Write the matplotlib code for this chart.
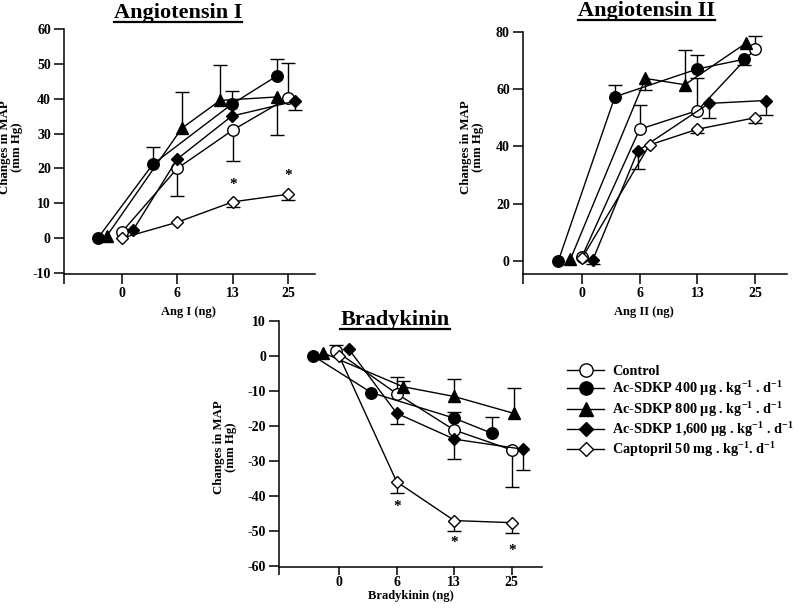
import numpy as np
import matplotlib
matplotlib.use("Agg")
import matplotlib.pyplot as plt
from matplotlib.lines import Line2D

plt.rcParams['font.family'] = 'serif'
plt.rcParams['font.serif'] = ['Liberation Serif', 'DejaVu Serif']
plt.rcParams['font.weight'] = 'bold'
plt.rcParams['axes.unicode_minus'] = False
plt.rcParams['mathtext.fontset'] = 'custom'
plt.rcParams['mathtext.rm'] = 'Liberation Serif:bold'
plt.rcParams['mathtext.it'] = 'Liberation Serif:bold'
plt.rcParams['mathtext.bf'] = 'Liberation Serif:bold'

# ---------------- data ----------------
dose_labels = ['0', '6', '13', '25']
series_names = ['Control',
                r'Ac-SDKP 400 µg . kg$^{-1}$ . d$^{-1}$',
                r'Ac-SDKP 800 µg . kg$^{-1}$ . d$^{-1}$',
                r'Ac-SDKP 1,600 µg . kg$^{-1}$ . d$^{-1}$',
                r'Captopril 50 mg . kg$^{-1}$. d$^{-1}$']

# Angiotensin I  (x = dose category index incl. plotting offset)
a1_x_ctrl = [0.0, 1.0, 2.0, 3.0]
a1_y_ctrl = [1.7, 20.0, 31.0, 40.3]
a1_lo_ctrl = [0, 8.0, 9.0, 0]
a1_hi_ctrl = [0, 0, 0, 10.0]
a1_x_400 = [-0.43, 0.56, 1.98, 2.79]
a1_y_400 = [0.0, 21.2, 38.4, 46.5]
a1_lo_400 = [0, 0, 0, 0]
a1_hi_400 = [0, 4.8, 3.8, 5.0]
a1_x_800 = [-0.27, 1.08, 1.77, 2.79]
a1_y_800 = [0.6, 31.5, 39.5, 40.5]
a1_lo_800 = [0, 0, 0, 11.0]
a1_hi_800 = [0, 10.3, 10.2, 0]
a1_x_1600 = [0.2, 1.0, 1.98, 3.12]
a1_y_1600 = [2.2, 22.7, 35.0, 39.3]
a1_lo_1600 = [0, 0, 0, 2.5]
a1_hi_1600 = [0, 0, 0, 0]
a1_x_cap = [0.0, 0.99, 2.0, 3.0]
a1_y_cap = [0.0, 4.5, 10.4, 12.6]
a1_lo_cap = [0, 0, 1.4, 1.6]
a1_hi_cap = [0, 0, 0, 0]
a1_star_x = [2, 3]
a1_star_y = [15.5, 18.0]

# Angiotensin II
a2_x_ctrl = [0.0, 1.0, 2.0, 3.0]
a2_y_ctrl = [1.5, 46.0, 52.5, 74.0]
a2_lo_ctrl = [0, 0, 0, 0]
a2_hi_ctrl = [0, 8.5, 11.5, 4.6]
a2_x_400 = [-0.41, 0.57, 2.0, 2.81]
a2_y_400 = [0.0, 57.3, 67.0, 70.4]
a2_lo_400 = [0, 0, 0, 2.0]
a2_hi_400 = [0, 4.0, 5.0, 0]
a2_x_800 = [-0.2, 1.1, 1.78, 2.84]
a2_y_800 = [0.6, 63.7, 61.5, 76.0]
a2_lo_800 = [0, 4.0, 0, 0]
a2_hi_800 = [0, 0, 12.0, 0]
a2_x_1600 = [0.19, 0.97, 2.2, 3.18]
a2_y_1600 = [0.5, 38.5, 55.0, 56.0]
a2_lo_1600 = [1.5, 6.3, 5.0, 5.0]
a2_hi_1600 = [0, 0, 0, 0]
a2_x_cap = [0.0, 1.17, 2.0, 3.0]
a2_y_cap = [1.0, 40.5, 46.0, 50.0]
a2_lo_cap = [0, 0, 1.5, 2.0]
a2_hi_cap = [0, 0, 0, 0]

# Bradykinin
bk_x_ctrl = [-0.06, 1.0, 2.0, 3.0]
bk_y_ctrl = [1.5, -10.8, -21.2, -26.9]
bk_lo_ctrl = [0, 0, 0, 10.7]
bk_hi_ctrl = [1.6, 4.8, 0, 0]
bk_x_400 = [-0.45, 0.56, 2.0, 2.65]
bk_y_400 = [0.0, -10.5, -17.8, -22.1]
bk_lo_400 = [0, 0, 0, 0]
bk_hi_400 = [0, 0, 1.9, 4.6]
bk_x_800 = [-0.28, 1.11, 2.0, 3.03]
bk_y_800 = [0.9, -8.8, -11.6, -16.4]
bk_lo_800 = [0, 0, 0, 0]
bk_hi_800 = [0, 1.5, 5.0, 7.2]
bk_x_1600 = [0.17, 1.0, 2.0, 3.2]
bk_y_1600 = [1.9, -16.4, -23.8, -26.7]
bk_lo_1600 = [0, 3.1, 5.8, 5.9]
bk_hi_1600 = [0, 0, 0, 0]
bk_x_cap = [0.0, 1.0, 2.0, 3.0]
bk_y_cap = [0.0, -36.0, -47.1, -47.7]
bk_lo_cap = [0, 3.1, 2.9, 2.9]
bk_hi_cap = [0, 0, 0, 0]
bk_star_x = [1, 2, 3]
bk_star_y = [-43.2, -53.4, -55.6]

# ---------------- styles ----------------
styles = [
    dict(marker='o', mfc='white', ms=8.3),
    dict(marker='o', mfc='black', ms=8.3),
    dict(marker='^', mfc='black', ms=8.5),
    dict(marker='D', mfc='black', ms=6.0),
    dict(marker='D', mfc='white', ms=6.4),
]

W, H = 800, 611
fig = plt.figure(figsize=(W / 100, H / 100), dpi=100)


def px_axes(left, top, right, bottom):
    return fig.add_axes([left / W, 1 - bottom / H, (right - left) / W, (bottom - top) / H])


def draw_err(ax, x, y, lo, hi):
    x = np.asarray(x, float); y = np.asarray(y, float)
    lo = np.asarray(lo, float); hi = np.asarray(hi, float)
    for err, sgn in ((hi, 1), (lo, -1)):
        m = err > 0
        if m.any():
            ends = y[m] + sgn * err[m]
            ax.vlines(x[m], y[m], ends, colors='black', lw=1.0, zorder=2)
            ax.plot(x[m], ends, ls='none', marker='_', ms=9.5, mew=1.0,
                    color='black', zorder=2)


def setup(ax, xlim, ylim, yticks, xlen=7, xpad=2.5):
    ax.set_xlim(*xlim)
    ax.set_ylim(*ylim)
    ax.set_xticks([xlim[0], 0, 1, 2, 3])
    ax.set_xticklabels([''] + dose_labels)
    ax.set_yticks(yticks)
    ax.set_yticklabels([str(t) for t in yticks])
    for s in ('top', 'right'):
        ax.spines[s].set_visible(False)
    for s in ('left', 'bottom'):
        ax.spines[s].set_linewidth(1.1)
    ax.spines['left'].set_bounds(ylim[0], max(yticks))
    ax.tick_params(axis='y', direction='out', length=7, width=1.1,
                   labelsize=10, pad=2.5)
    ax.tick_params(axis='x', direction='out', length=xlen, width=1.1,
                   labelsize=10, pad=xpad)
    ax.patch.set_alpha(0)


def panel(ax, data):
    lines = []
    for (x, y, lo, hi), st in zip(data, styles):
        draw_err(ax, x, y, lo, hi)
        ln, = ax.plot(x, y, color='black', lw=1.0, marker=st['marker'],
                      ms=st['ms'], mfc=st['mfc'], mec='black', mew=1.0, zorder=3)
        lines.append(ln)
    return lines


# Angiotensin I
ax1 = px_axes(64, 29, 315, 274)
l1 = panel(ax1, [
    (a1_x_ctrl, a1_y_ctrl, a1_lo_ctrl, a1_hi_ctrl),
    (a1_x_400, a1_y_400, a1_lo_400, a1_hi_400),
    (a1_x_800, a1_y_800, a1_lo_800, a1_hi_800),
    (a1_x_1600, a1_y_1600, a1_lo_1600, a1_hi_1600),
    (a1_x_cap, a1_y_cap, a1_lo_cap, a1_hi_cap),
])
setup(ax1, (-1.04, 3.48), (-10.3, 60), [-10, 0, 10, 20, 30, 40, 50, 60])
for xs, ys in zip(a1_star_x, a1_star_y):
    ax1.text(xs, ys, '*', ha='center', va='center', fontsize=11, fontweight='bold')

# Angiotensin II
ax2 = px_axes(523, 31.7, 787, 274)
panel(ax2, [
    (a2_x_ctrl, a2_y_ctrl, a2_lo_ctrl, a2_hi_ctrl),
    (a2_x_400, a2_y_400, a2_lo_400, a2_hi_400),
    (a2_x_800, a2_y_800, a2_lo_800, a2_hi_800),
    (a2_x_1600, a2_y_1600, a2_lo_1600, a2_hi_1600),
    (a2_x_cap, a2_y_cap, a2_lo_cap, a2_hi_cap),
])
setup(ax2, (-1.02, 3.55), (-4.5, 80), [0, 20, 40, 60, 80])

# Bradykinin
ax3 = px_axes(279.3, 321, 541.7, 566.7)
panel(ax3, [
    (bk_x_ctrl, bk_y_ctrl, bk_lo_ctrl, bk_hi_ctrl),
    (bk_x_400, bk_y_400, bk_lo_400, bk_hi_400),
    (bk_x_800, bk_y_800, bk_lo_800, bk_hi_800),
    (bk_x_1600, bk_y_1600, bk_lo_1600, bk_hi_1600),
    (bk_x_cap, bk_y_cap, bk_lo_cap, bk_hi_cap),
])
setup(ax3, (-1.04, 3.52), (-60.3, 10), [-60, -50, -40, -30, -20, -10, 0, 10],
      xlen=6, xpad=1.0)
for xs, ys in zip(bk_star_x, bk_star_y):
    ax3.text(xs, ys, '*', ha='center', va='center', fontsize=11, fontweight='bold')


def ftext(xp, yp, s, **kw):
    return fig.text(xp / W, 1 - yp / H, s, **kw)


# titles
titles = [
    ftext(178, 18, 'Angiotensin I', ha='center', va='baseline', fontsize=16, fontweight='bold'),
    ftext(646, 15.7, 'Angiotensin II', ha='center', va='baseline', fontsize=16, fontweight='bold'),
    ftext(395, 325, 'Bradykinin', ha='center', va='baseline', fontsize=16, fontweight='bold'),
]

# axis labels
ylab = 'Changes in MAP\n(mm Hg)'
ftext(11, 147, ylab, rotation=90, ha='center', va='center', ma='center', fontsize=9.3, linespacing=1.0)
ftext(472, 147, ylab, rotation=90, ha='center', va='center', ma='center', fontsize=9.3, linespacing=1.0)
ftext(225, 447, ylab, rotation=90, ha='center', va='center', ma='center', fontsize=9.3, linespacing=1.0)
ftext(188, 312, 'Ang I (ng)', ha='center', va='center', fontsize=9)
ftext(644, 312, 'Ang II (ng)', ha='center', va='center', fontsize=9)
ftext(411, 596, 'Bradykinin (ng)', ha='center', va='center', fontsize=9)

# legend
fig.legend(l1, series_names, loc='upper left', bbox_to_anchor=(567 / W, 1 - 365 / H),
           frameon=False, fontsize=10.3, handlelength=2.6, handletextpad=0.55,
           labelspacing=0.1, markerscale=1.15, borderpad=0, borderaxespad=0)

# underline titles
fig.canvas.draw()
r = fig.canvas.get_renderer()
for t in titles:
    bb = t.get_window_extent(r)
    y = bb.y0 + 1
    fig.add_artist(Line2D([bb.x0 / W, bb.x1 / W], [y / H, y / H],
                          transform=fig.transFigure, color='black', lw=1.6))

fig.savefig('out.png', dpi=100)
